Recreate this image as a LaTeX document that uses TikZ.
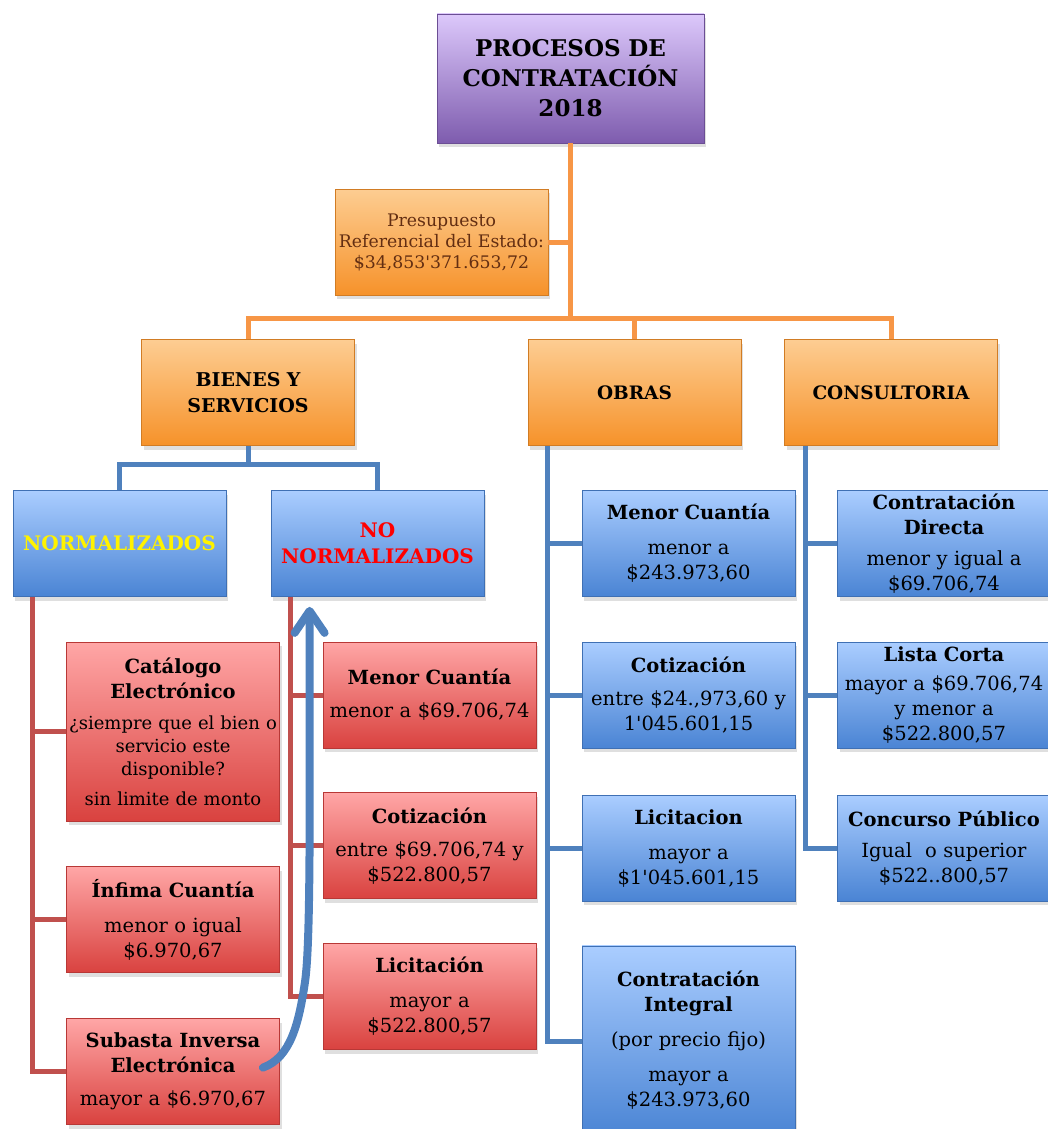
\documentclass[tikz,border=0pt]{standalone}
\usepackage{fontspec}
\setmainfont{DejaVu Serif}
\usepackage{xcolor}
\usepackage{tikz}
\usetikzlibrary{positioning,shadows,arrows.meta}

\definecolor{purtop}{HTML}{DCC8FB}
\definecolor{purbot}{HTML}{7E5CAE}
\definecolor{orgtop}{HTML}{FDCD92}
\definecolor{orgbot}{HTML}{F6922A}
\definecolor{blutop}{HTML}{AACDFF}
\definecolor{blubot}{HTML}{4A84D4}
\definecolor{redtop}{HTML}{FFA6A6}
\definecolor{redbot}{HTML}{D9423F}
\definecolor{orgline}{HTML}{F79646}
\definecolor{bluline}{HTML}{4F81BD}
\definecolor{redline}{HTML}{C0504D}
\definecolor{presbrown}{HTML}{632E12}

\newcommand{\boxtitle}[1]{{\fontsize{19.5}{25}\selectfont\bfseries #1\par}}
\newcommand{\apos}{\textquotesingle}

\begin{document}
\begin{tikzpicture}[x=1pt,y=-1pt]

\useasboundingbox (0,0) rectangle (1047,1129);

\tikzstyle{every node}=[font=\fontsize{19.5}{25}\selectfont, align=center, inner sep=0pt]
\tikzstyle{box}=[rectangle, text width=213pt, minimum width=213pt, minimum height=106pt, line width=0.8pt, drop shadow={shadow xshift=2pt, shadow yshift=-4pt, opacity=0.25}]
\tikzstyle{pbox}=[box, top color=purtop, bottom color=purbot, draw=purbot!85!black]
\tikzstyle{obox}=[box, top color=orgtop, bottom color=orgbot, draw=orgbot!85!black]
\tikzstyle{bbox}=[box, top color=blutop, bottom color=blubot, draw=blubot!85!black]
\tikzstyle{rbox}=[box, top color=redtop, bottom color=redbot, draw=redbot!85!black]
\tikzstyle{oline}=[orgline, line width=5pt]
\tikzstyle{bline}=[bluline, line width=5pt]
\tikzstyle{rline}=[redline, line width=5pt]

% nodes %
\node[pbox, text width=267pt, minimum width=267pt, minimum height=129pt, font=\fontsize{23}{30}\selectfont\bfseries] (top) at (570.5,78.5) {PROCESOS DE\\CONTRATACIÓN\\2018};
\node[obox, font=\fontsize{17.3}{21}\selectfont, text=presbrown] (pres) at (441.5,242) {Presupuesto\\Referencial del Estado:\\\$34,853\apos371.653,72};

\node[obox, font=\fontsize{19}{26}\selectfont\bfseries] (bien) at (248,392.5) {BIENES Y\\SERVICIOS};
\node[obox, font=\fontsize{18.5}{24}\selectfont\bfseries] (obra) at (634.5,392.5) {OBRAS};
\node[obox, font=\fontsize{18.5}{24}\selectfont\bfseries] (cons) at (891,392.5) {CONSULTORIA};

\node[bbox, font=\fontsize{20}{26}\selectfont\bfseries, text=yellow] (norm) at (119.5,543.5) {NORMALIZADOS};
\node[bbox, font=\fontsize{20}{26}\selectfont\bfseries, text=red] (nonorm) at (377.5,543.5) {NO\\NORMALIZADOS};

\node[rbox, minimum height=179pt, font=\fontsize{18}{23}\selectfont] (cat) at (173,731.5) {\boxtitle{Catálogo\\Electrónico}\vspace{8pt}¿siempre que el bien o\\servicio este\\disponible?\\[7pt]sin limite de monto};
\node[rbox, below=45pt of cat] (inf) {\boxtitle{Ínfima Cuantía}\vspace{10pt}menor o igual\\\$6.970,67};
\node[rbox, below=45pt of inf] (sub) {\boxtitle{Subasta Inversa\\Electrónica}\vspace{8pt}mayor a \$6.970,67};

\node[rbox] (nmen) at (429.5,695) {\boxtitle{Menor Cuantía}\vspace{8pt}menor a \$69.706,74};
\node[rbox, below=44pt of nmen] (ncot) {\boxtitle{Cotización}\vspace{8pt}entre \$69.706,74 y\\\$522.800,57};
\node[rbox, below=44pt of ncot] (nlic) {\boxtitle{Licitación}\vspace{10pt}mayor a\\\$522.800,57};

\node[bbox] (omen) at (688.5,543.5) {\boxtitle{Menor Cuantía}\vspace{10pt}menor a\\\$243.973,60};
\node[bbox, below=45pt of omen] (ocot) {\boxtitle{Cotización}\vspace{8pt}entre \$24.,973,60 y\\1\apos045.601,15};
\node[bbox, below=46pt of ocot] (olic) {\boxtitle{Licitacion}\vspace{10pt}mayor a\\\$1\apos045.601,15};
\node[bbox, below=44pt of olic, minimum height=192pt] (oint) {\boxtitle{Contratación\\Integral}\vspace{10pt}(por precio fijo)\\[10pt]mayor a\\\$243.973,60\vspace{4pt}};

\node[bbox] (ccd) at (944,543.5) {\boxtitle{Contratación\\Directa}\vspace{6pt}menor y igual a\\\$69.706,74};
\node[bbox, below=45pt of ccd] (clc) {\boxtitle{Lista Corta}\vspace{4pt}mayor a \$69.706,74\\y menor a\\\$522.800,57};
\node[bbox, below=46pt of clc] (ccp) {\boxtitle{Concurso Público}\vspace{6pt}Igual\ \ o superior\\\$522..800,57};

\coordinate (hub) at ([yshift=-175pt]top.south);
\coordinate (bj) at ([yshift=-19pt]bien.south);
\coordinate (ns) at ([xshift=20pt]norm.south west);
\coordinate (ms) at ([xshift=20pt]nonorm.south west);
\coordinate (os) at ([xshift=20pt]obra.south west);
\coordinate (cs) at ([xshift=21pt]cons.south west);

% edges %
\draw[oline] (top.south) -- (hub);
\draw[oline] (pres.east) -- (pres.east -| hub);
\draw[oline] (bien.north) |- (hub) -| (cons.north);
\draw[oline] (obra.north) -- (obra.north |- hub);

\draw[bline] (bien.south) -- (bj);
\draw[bline] (norm.north) |- (bj) -| (nonorm.north);

\draw[rline] (ns) |- (sub.west);
\draw[rline] (cat.west) -- (cat.west -| ns);
\draw[rline] (inf.west) -- (inf.west -| ns);

\draw[rline] (ms) |- (nlic.west);
\draw[rline] (nmen.west) -- (nmen.west -| ms);
\draw[rline] (ncot.west) -- (ncot.west -| ms);

\draw[bline] (os) |- (oint.west);
\draw[bline] (omen.west) -- (omen.west -| os);
\draw[bline] (ocot.west) -- (ocot.west -| os);
\draw[bline] (olic.west) -- (olic.west -| os);

\draw[bline] (cs) |- (ccp.west);
\draw[bline] (ccd.west) -- (ccd.west -| cs);
\draw[bline] (clc.west) -- (clc.west -| cs);

\draw[bluline, line width=8pt, line cap=round, -{Straight Barb[length=22pt, width=30pt, round]}] ([xshift=-17pt, yshift=4pt]sub.east) .. controls +(28,-10) and +(-6,40) .. ++(42,-85) .. controls +(6,-40) and +(0,200) .. ([shift={(39pt,-10pt)}]nonorm.south west);

\end{tikzpicture}
\end{document}
